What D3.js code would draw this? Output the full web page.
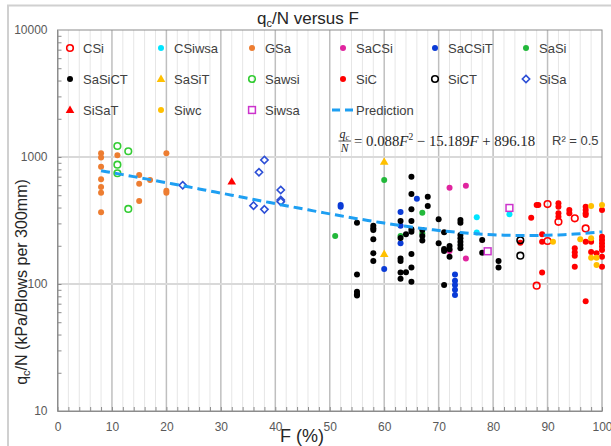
<!DOCTYPE html>
<html><head><meta charset="utf-8">
<script src="https://cdn.jsdelivr.net/npm/d3@7"></script>
<style>
body{margin:0;background:#fff;}
svg{display:block;font-family:"Liberation Sans",Arial,sans-serif;}
</style></head>
<body><svg id="c" width="611" height="446"></svg>
<script>
// ---------- data (F %, qc/N) ----------
const CSi = [[90,426],[92,309],[95,329],[97,274],[90,218],[88,97]];
const CSiwsa = [[77,335],[77,254],[83,354]];
const GSa = [[8,1070],[8,990],[8,839],[8,667],[8,580],[8,523],[8,367],[11,1030],[15,722],[15,617],[15,451],[17,659],[20,1070],[20,543],[20,523]];
const SaCSi = [[72,573],[75,594],[72,182],[75,159]];
const SaCSiT = [[52,418],[52,406],[63,369],[63,287],[63,209],[60,131],[66,470],[73,119],[73,106],[73,98],[73,90],[73,82]];
const SaSi = [[51,239],[60,659],[63,239],[67,364],[67,250]];
const SaSiCT = [[55,304],[55,119],[55,87],[55,83],[55,81],
 [58,287],[58,275],[58,266],[58,225],[58,175],[58,152],
 [63,314],[63,230],[63,159],[63,152],[63,123],[63,110],
 [64,246],[64,124],
 [65,700],[65,512],[65,387],[65,314],[65,270],[65,258],[65,172],[65,135],[65,104],
 [67,266],[67,239],[67,220],[68,487],[68,411],[70,323],[70,209],
 [71,256],[71,189],[71,182],[71,98],[72,199],[72,188],[72,164],
 [74,319],[74,304],[74,243],[74,229],[74,215],[74,203],[74,191],
 [78,222],[78,176],[81,152],[81,135]];
const SaSiT = [[60,918],[60,172]];
const Sawsi = [[11,1221],[11,870],[11,745],[13,1110],[13,390]];
const SiC = [[88,419],[88.3,419],[87,333],[89,246],[89,215],[89,123],[85,211],
 [92,432],[92,406],[92,360],[92,339],[94,383],[94,360],
 [97,406],[97,383],[97,360],[97,349],[97,215],[97,73],
 [95,191],[95,178],[95,167],[95,137],[98,179],[99,175],[98,215],
 [100,383],[100,236],[100,222],[100,209],[100,197],[100,185],[100,164],[100,137]];
const SiCT = [[85,221],[85,167]];
const SiSa = [[23,599],[38,947],[37,758],[41,550],[41,458],[41,445],[36,414],[38,387]];
const SiSaT = [[32,640]];
const Siwc = [[98,411],[100,419],[91,215],[96,225],[98,229],[98,161],[99,161],[99,141]];
const Siwsa = [[83,397],[79,181]];
const fitCoef = [0.088, -15.189, 896.18]; // qc/N = a F^2 + b F + c
const fitRange = [8, 100];
const xTicks = [0,10,20,30,40,50,60,70,80,90,100];
const yTicks = [10,100,1000,10000];

const series = [
 {name:"CSi", data:CSi, type:"ring", color:"#ff0000"},
 {name:"CSiwsa", data:CSiwsa, type:"dot", color:"#00e5ff"},
 {name:"GSa", data:GSa, type:"dot", color:"#ed7d31"},
 {name:"SaCSi", data:SaCSi, type:"dot", color:"#e0259f"},
 {name:"SaCSiT", data:SaCSiT, type:"dot", color:"#0a3bd6"},
 {name:"SaSi", data:SaSi, type:"dot", color:"#22b83a"},
 {name:"SaSiCT", data:SaSiCT, type:"dot", color:"#000000"},
 {name:"SaSiT", data:SaSiT, type:"tri", color:"#ffc000"},
 {name:"Sawsi", data:Sawsi, type:"ring", color:"#33cc33"},
 {name:"SiC", data:SiC, type:"dot", color:"#ff0000"},
 {name:"SiCT", data:SiCT, type:"ring", color:"#000000"},
 {name:"SiSa", data:SiSa, type:"diamond", color:"#2d4fd6"},
 {name:"SiSaT", data:SiSaT, type:"tri", color:"#ff0000"},
 {name:"Siwc", data:Siwc, type:"dot", color:"#ffc000"},
 {name:"Siwsa", data:Siwsa, type:"square", color:"#cc33cc"}
];

const svg = d3.select("#c");
const L=57.5, R=602, T=30, B=411;
const x = d3.scaleLinear().domain([0,100]).range([L,R]);
const y = d3.scaleLog().domain([10,10000]).range([B,T]);

// outer chart border
svg.append("rect").attr("x",8).attr("y",5.5).attr("width",700).attr("height",600)
  .attr("fill","#fff").attr("stroke","#d0d0d0").attr("stroke-width",2);

// grid
const g = svg.append("g");
const minorX = d3.range(0,101,2).filter(v=>v%10!==0);
g.selectAll(".mx").data(minorX).enter().append("line")
 .attr("x1",d=>x(d)).attr("x2",d=>x(d)).attr("y1",T).attr("y2",B)
 .attr("stroke","#e6e6e6").attr("stroke-width",1);
g.selectAll(".Mx").data(xTicks.slice(1,-1)).enter().append("line")
 .attr("x1",d=>x(d)).attr("x2",d=>x(d)).attr("y1",T).attr("y2",B)
 .attr("stroke","#bfbfbf").attr("stroke-width",1.5);
g.selectAll(".My").data([100,1000]).enter().append("line")
 .attr("x1",L).attr("x2",R).attr("y1",d=>y(d)).attr("y2",d=>y(d))
 .attr("stroke","#d9d9d9").attr("stroke-width",2);

// plot border
svg.append("rect").attr("x",L).attr("y",T).attr("width",R-L).attr("height",B-T)
 .attr("fill","none").attr("stroke","#8c8c8c").attr("stroke-width",1);

// axes
const xAxis = svg.append("g").attr("transform",`translate(0,${B})`)
 .call(d3.axisBottom(x).tickValues(xTicks).tickSize(0).tickPadding(11).tickFormat(d3.format("d")));
xAxis.select(".domain").attr("stroke","#8c8c8c");
xAxis.selectAll("text").attr("font-size",12).attr("fill","#595959").attr("font-family","Liberation Sans, Arial");
const xMinor = svg.append("g").attr("transform",`translate(0,${B})`)
 .call(d3.axisTop(x).tickValues(d3.range(0,101,2)).tickSize(4).tickFormat(""));
xMinor.select(".domain").remove();
xMinor.selectAll("line").attr("stroke","#8c8c8c");

const yAxis = svg.append("g").attr("transform",`translate(${L},0)`)
 .call(d3.axisLeft(y).tickValues(yTicks).tickSize(0).tickPadding(10).tickFormat(d3.format("d")));
yAxis.select(".domain").attr("stroke","#8c8c8c");
yAxis.selectAll("text").attr("font-size",12).attr("fill","#595959").attr("font-family","Liberation Sans, Arial");
const yMinorVals = [];
[10,100,1000].forEach(b=>{for(let k=1;k<10;k++) yMinorVals.push(b*k);});
const yMinor = svg.append("g").attr("transform",`translate(${L},0)`)
 .call(d3.axisRight(y).tickValues(yMinorVals).tickSize(4).tickFormat(""));
yMinor.select(".domain").remove();
yMinor.selectAll("line").attr("stroke","#8c8c8c");

// markers
function marker(sel, type, color, cx, cy){
  if(type==="dot"){
    sel.append("circle").attr("cx",cx).attr("cy",cy).attr("r",3).attr("fill",color);
  } else if(type==="ring"){
    sel.append("circle").attr("cx",cx).attr("cy",cy).attr("r",3.3).attr("fill","none")
      .attr("stroke",color).attr("stroke-width",1.6);
  } else if(type==="diamond"){
    sel.append("path").attr("d",d3.symbol(d3.symbolDiamond2,34)())
      .attr("transform",`translate(${cx},${cy})`).attr("fill","#fff")
      .attr("stroke",color).attr("stroke-width",1.6);
  } else if(type==="tri"){
    sel.append("path").attr("d",d3.symbol(d3.symbolTriangle,32)())
      .attr("transform",`translate(${cx},${cy+0.5})`).attr("fill",color);
  } else if(type==="square"){
    sel.append("rect").attr("x",cx-3.4).attr("y",cy-3.4).attr("width",6.8).attr("height",6.8)
      .attr("fill","#fff").attr("stroke",color).attr("stroke-width",1.5);
  }
}

// prediction curve
const fit = F => fitCoef[0]*F*F + fitCoef[1]*F + fitCoef[2];
const curve = d3.range(fitRange[0], fitRange[1]+0.01, 1).map(F=>[F, fit(F)]);

const pts = svg.append("g");
series.forEach(s=>{
  s.data.forEach(d=>marker(pts, s.type, s.color, x(d[0]), y(d[1])));
});
svg.append("path").datum(curve)
 .attr("d", d3.line().x(d=>x(d[0])).y(d=>y(d[1])))
 .attr("fill","none").attr("stroke","#1e9ff2").attr("stroke-width",3)
 .attr("stroke-dasharray","9,5");

// legend
const colX = [70,161,252,343,435,526];
const rowY = [48,79,110];
const leg = svg.append("g");
const entries = series.map(s=>s).concat([{name:"Prediction", type:"line"}]);
entries.forEach((s,i)=>{
  const cx = colX[i%6], cy = rowY[Math.floor(i/6)];
  if(s.type==="line"){
    leg.append("line").attr("x1",cx-11).attr("x2",cx+11).attr("y1",cy).attr("y2",cy)
      .attr("stroke","#1e9ff2").attr("stroke-width",3).attr("stroke-dasharray","8,5");
  } else marker(leg, s.type, s.color, cx, cy);
  leg.append("text").attr("x",cx+13).attr("y",cy+4.5).attr("font-size",13)
    .attr("fill","#404040").text(s.name);
});

// equation
const eq = svg.append("g").attr("font-family","Liberation Serif, DejaVu Serif, serif").attr("fill","#262626");
eq.append("text").attr("x",344.5).attr("y",137.5).attr("font-size",12).attr("text-anchor","middle")
  .attr("font-style","italic").html('q<tspan font-size="8.5" dy="2">c</tspan>');
eq.append("line").attr("x1",338.5).attr("x2",351).attr("y1",141).attr("y2",141).attr("stroke","#262626").attr("stroke-width",0.8);
eq.append("text").attr("x",344.5).attr("y",151.5).attr("font-size",11.5).attr("text-anchor","middle")
  .attr("font-style","italic").text("N");
eq.append("text").attr("x",354).attr("y",145.5).attr("font-size",14.8)
  .html('= 0.088<tspan font-style="italic">F</tspan><tspan font-size="9.5" dy="-6">2</tspan><tspan dy="6"> − 15.189</tspan><tspan font-style="italic">F</tspan> + 896.18');
svg.append("text").attr("x",552).attr("y",145).attr("font-size",13).attr("fill","#404040").text("R² = 0.5");

// titles
svg.append("text").attr("x",308).attr("y",24).attr("text-anchor","middle").attr("font-size",17)
 .attr("fill","#262626").html('q<tspan font-size="11" dy="3">c</tspan><tspan dy="-3">/N versus F</tspan>');
svg.append("text").attr("x",302).attr("y",442).attr("text-anchor","middle").attr("font-size",18)
 .attr("fill","#262626").text("F (%)");
svg.append("text").attr("transform","translate(27,282) rotate(-90)").attr("text-anchor","middle")
 .attr("font-size",16).attr("fill","#262626")
 .html('q<tspan font-size="11" dy="3">c</tspan><tspan dy="-3">/N (kPa/Blows per 300mm)</tspan>');
</script></body></html>
